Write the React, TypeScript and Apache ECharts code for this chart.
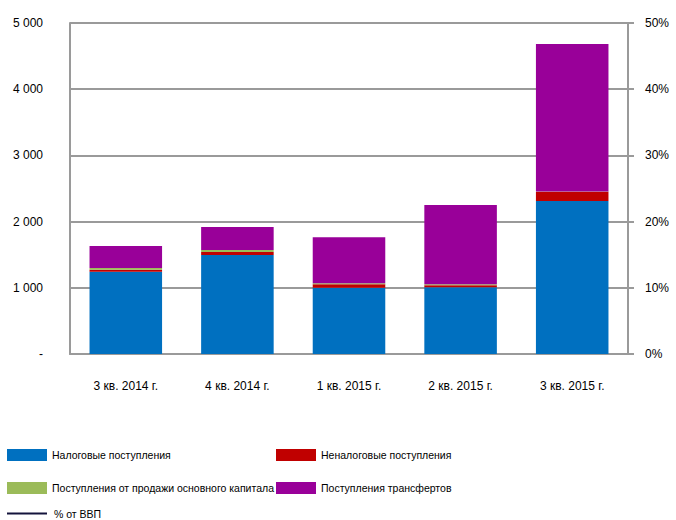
import React, { useEffect, useRef } from "react";
import * as echarts from "echarts";

const categories = ["3 кв. 2014 г.", "4 кв. 2014 г.", "1 кв. 2015 г.", "2 кв. 2015 г.", "3 кв. 2015 г."];
const taxRevenue = [1243, 1495, 1002, 1007, 2311];
const nonTaxRevenue = [30, 45, 50, 30, 140];
const capitalSales = [25, 30, 15, 15, 3];
const transfers = [333, 348, 696, 1199, 2230];
const gdpShare: (number | null)[] = [null, null, null, null, null];

const leftTicks = [0, 1000, 2000, 3000, 4000, 5000];

const FONT = "'Liberation Sans', Arial, sans-serif";
const GRID_COLOR = "#9a9a9a";

export default function App() {
  const ref = useRef<HTMLDivElement>(null);
  useEffect(() => {
    if (!ref.current) return;
    const chart = echarts.init(ref.current, undefined, { renderer: "svg" });
    const legendBase = {
      orient: "horizontal" as const,
      padding: 0,
      itemWidth: 40,
      itemHeight: 12,
      itemGap: 10,
      textStyle: { fontSize: 10.5, color: "#000", fontFamily: FONT, padding: [0, 0, 4, 0] },
      selectedMode: false,
    };
    chart.setOption({
      animation: false,
      textStyle: { fontFamily: FONT },
      grid: { left: 70, right: 48, top: 23, bottom: 166, containLabel: false },
      legend: [
        { ...legendBase, left: 7, top: 449, data: [{ name: "Налоговые поступления", icon: "rect" }] },
        { ...legendBase, left: 276, top: 449, data: [{ name: "Неналоговые поступления", icon: "rect" }] },
        { ...legendBase, left: 7, top: 482, data: [{ name: "Поступления от продажи основного капитала", icon: "rect" }] },
        { ...legendBase, left: 276, top: 482, data: [{ name: "Поступления трансфертов", icon: "rect" }] },
        {
          ...legendBase,
          left: 7,
          top: 508,
          itemHeight: 2,
          textStyle: { ...legendBase.textStyle, padding: [0, 0, 6, 2] },
          data: [{ name: "% от ВВП", icon: "rect", itemStyle: { color: "#14143c" } }],
        },
      ],
      xAxis: {
        type: "category",
        data: categories,
        axisLine: { show: true, lineStyle: { color: GRID_COLOR, width: 2 } },
        axisTick: { show: false },
        axisLabel: { margin: 26, fontSize: 12, color: "#000", fontFamily: FONT },
      },
      yAxis: [
        {
          type: "value",
          min: leftTicks[0],
          max: leftTicks[leftTicks.length - 1],
          interval: 1000,
          axisLine: { show: true, lineStyle: { color: GRID_COLOR, width: 2 } },
          axisTick: { show: false },
          splitLine: { show: true, lineStyle: { color: GRID_COLOR, width: 2 } },
          axisLabel: {
            margin: 27,
            fontSize: 12,
            color: "#000",
            fontFamily: FONT,
            padding: [0, 0, 9, 0],
            formatter: (v: number) => (v === 0 ? "-" : String(v).replace(/\B(?=(\d{3})+(?!\d))/g, " ")),
          },
        },
        {
          type: "value",
          min: 0,
          max: 0.5,
          interval: 0.1,
          position: "right",
          axisLine: { show: true, lineStyle: { color: GRID_COLOR, width: 2 } },
          axisTick: { show: true, length: 6, lineStyle: { color: GRID_COLOR, width: 2 } },
          splitLine: { show: false },
          axisLabel: {
            margin: 17,
            fontSize: 12,
            color: "#000",
            fontFamily: FONT,
            padding: [0, 0, 9, 0],
            formatter: (v: number) => `${Math.round(v * 100)}%`,
          },
        },
      ],
      series: [
        {
          name: "Налоговые поступления",
          type: "bar",
          stack: "rev",
          barWidth: "65%",
          data: taxRevenue,
          itemStyle: { color: "#0070C0" },
        },
        {
          name: "Неналоговые поступления",
          type: "bar",
          stack: "rev",
          data: nonTaxRevenue,
          itemStyle: { color: "#C00000" },
        },
        {
          name: "Поступления от продажи основного капитала",
          type: "bar",
          stack: "rev",
          data: capitalSales,
          itemStyle: { color: "#9BBB59" },
        },
        {
          name: "Поступления трансфертов",
          type: "bar",
          stack: "rev",
          data: transfers,
          itemStyle: { color: "#990099" },
        },
        {
          name: "% от ВВП",
          type: "line",
          yAxisIndex: 1,
          data: gdpShare,
          symbol: "none",
          lineStyle: { color: "#14143c", width: 2 },
          itemStyle: { color: "#14143c" },
        },
      ],
    });
    return () => chart.dispose();
  }, []);
  return <div ref={ref} style={{ width: 676, height: 520, position: "absolute", left: 0, top: 0 }} />;
}
